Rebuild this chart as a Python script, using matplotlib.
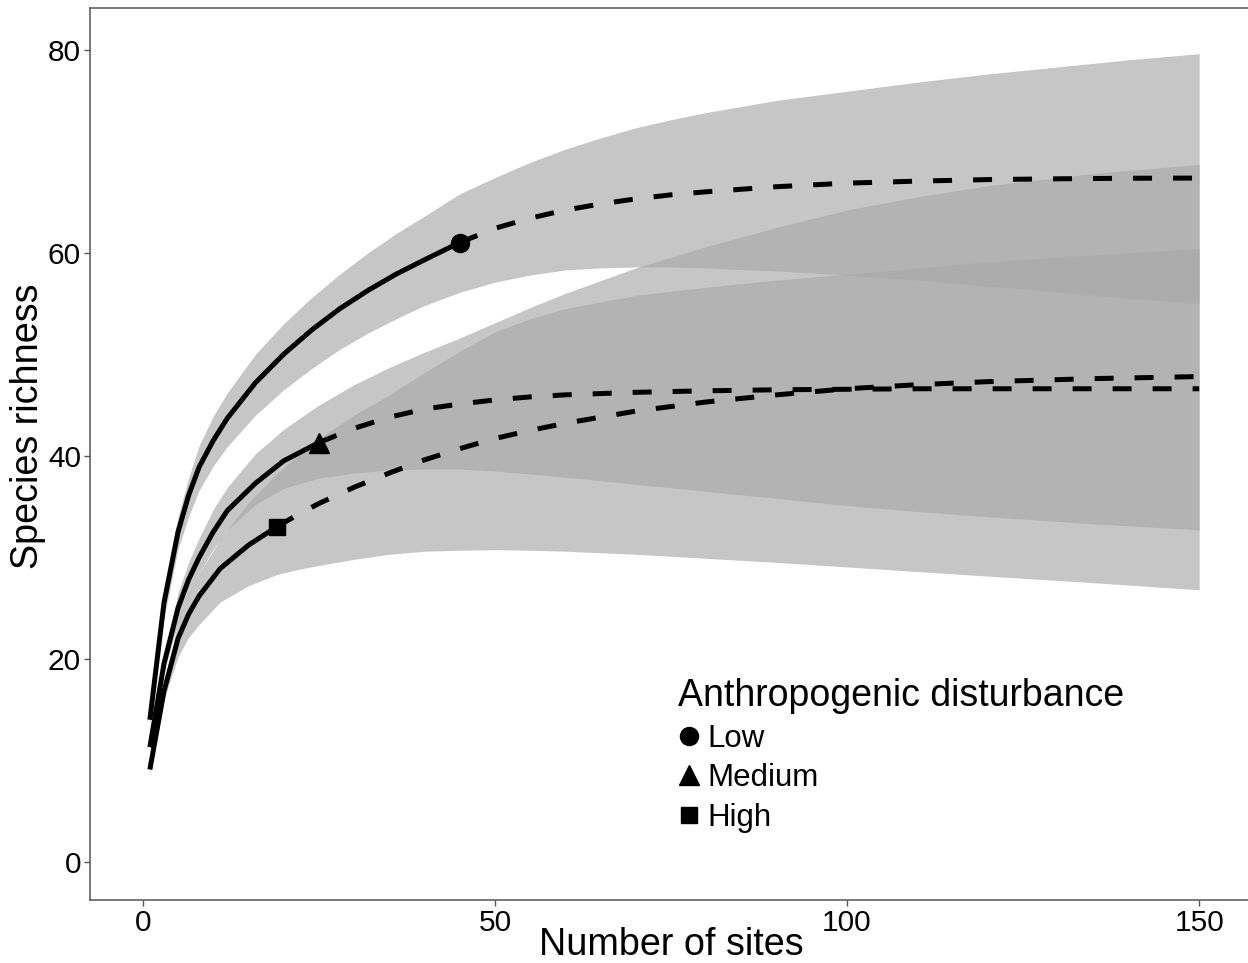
import matplotlib
matplotlib.use("Agg")
import matplotlib.pyplot as plt
from matplotlib.lines import Line2D

plt.rcParams['font.family'] = ['Liberation Sans', 'DejaVu Sans']

# observed number of sites per disturbance level
n_obs = {"Low": 45, "Medium": 25, "High": 19}

# Low disturbance
low_x = [1, 3, 5, 6.5, 8, 10, 12, 16, 20, 24, 28, 32, 36, 40, 45, 50, 55, 60, 65, 70, 75, 80, 90, 100,
         110, 120, 130, 140, 150]
low_y = [14.0, 25.5, 32.5, 36.1, 38.9, 41.5, 43.7, 47.2, 50.0, 52.4, 54.5, 56.3, 57.9, 59.3, 61.0, 62.4,
         63.4, 64.2, 64.8, 65.3, 65.7, 66.0, 66.5, 66.85, 67.05, 67.2, 67.28, 67.33, 67.35]
low_lo = [13.6, 24.0, 30.8, 34.0, 36.6, 39.0, 40.9, 44.0, 46.5, 48.6, 50.5, 52.1, 53.5, 54.8, 56.1, 57.1,
          57.8, 58.3, 58.5, 58.6, 58.6, 58.5, 58.2, 57.8, 57.3, 56.7, 56.1, 55.5, 55.0]
low_hi = [14.4, 26.9, 34.0, 37.8, 41.0, 43.9, 46.2, 50.0, 53.0, 55.6, 57.9, 60.0, 61.9, 63.6, 65.8, 67.4,
          68.9, 70.2, 71.3, 72.3, 73.1, 73.8, 75.0, 75.9, 76.8, 77.6, 78.3, 79.0, 79.6]

# Medium disturbance
med_x = [1, 3, 5, 6.5, 8, 10, 12, 16, 20, 25, 30, 35, 40, 45, 50, 55, 60, 70, 80, 90, 100, 110, 120,
         135, 150]
med_y = [11.3, 19.5, 25.0, 27.8, 30.0, 32.5, 34.6, 37.3, 39.5, 41.3, 42.7, 43.8, 44.6, 45.1, 45.5, 45.8,
         46.0, 46.25, 46.4, 46.5, 46.55, 46.6, 46.6, 46.6, 46.6]
med_lo = [11.0, 18.8, 23.5, 26.2, 28.4, 30.8, 32.7, 35.2, 36.8, 37.8, 38.3, 38.6, 38.7, 38.7, 38.5, 38.2,
          37.9, 37.2, 36.5, 35.8, 35.1, 34.5, 34.0, 33.3, 32.7]
med_hi = [11.6, 20.3, 26.5, 29.5, 31.9, 34.7, 36.9, 40.2, 42.6, 45.0, 47.0, 48.7, 50.2, 51.6, 53.1, 54.6,
          56.0, 58.5, 60.6, 62.5, 64.2, 65.5, 66.6, 67.8, 68.7]

# High disturbance
high_x = [1, 3, 5, 6.5, 8, 11, 15, 19, 22, 25, 30, 35, 40, 45, 50, 55, 60, 70, 80, 90, 100, 110, 120,
          135, 150]
high_y = [9.1, 16.8, 22.0, 24.4, 26.2, 28.9, 31.2, 33.0, 34.2, 35.3, 36.9, 38.3, 39.6, 40.7, 41.7, 42.5,
          43.2, 44.4, 45.3, 46.0, 46.6, 47.0, 47.3, 47.6, 47.8]
high_lo = [8.8, 16.0, 20.2, 22.1, 23.4, 25.6, 27.2, 28.3, 28.8, 29.2, 29.8, 30.3, 30.6, 30.7, 30.75, 30.7,
           30.6, 30.3, 29.9, 29.5, 29.05, 28.6, 28.15, 27.5, 26.8]
high_hi = [9.4, 17.5, 23.6, 26.3, 28.4, 31.8, 35.4, 38.2, 40.1, 41.7, 44.0, 46.0, 48.2, 50.3, 52.2, 53.5,
           54.5, 55.8, 56.6, 57.3, 57.9, 58.5, 59.1, 59.8, 60.4]

series = [
    ("Low", "o", 13, low_x, low_y, low_lo, low_hi),
    ("Medium", "^", 14, med_x, med_y, med_lo, med_hi),
    ("High", "s", 12, high_x, high_y, high_lo, high_hi),
]

fig = plt.figure(figsize=(12.48, 9.63), dpi=100)
ax = fig.add_axes([90 / 1248, 63 / 963, 1162 / 1248, 892 / 963])

for name, mk, ms, xs, ys, lo, hi in series:
    ax.fill_between(xs, lo, hi, color="#aaaaaa", alpha=0.67, linewidth=0)

for name, mk, ms, xs, ys, lo, hi in series:
    n = n_obs[name]
    xa = [x for x in xs if x <= n]
    ya = [y for x, y in zip(xs, ys) if x <= n]
    xb = [x for x in xs if x >= n]
    yb = [y for x, y in zip(xs, ys) if x >= n]
    ax.plot(xa, ya, color="black", lw=3.6, solid_capstyle="butt", solid_joinstyle="round")
    ax.plot(xb, yb, color="black", lw=3.6, linestyle=(0, (3.8, 4.2)))
    ax.plot([n], [ya[-1]], marker=mk, color="black", markersize=ms, linestyle="None")

ax.set_xlim(-7.5, 157.5)
ax.set_ylim(-3.75, 84.1)
ax.set_xticks([0, 50, 100, 150])
ax.set_yticks([0, 20, 40, 60, 80])
ax.tick_params(axis="both", length=4.5, width=1, color="#555555", labelsize=21.5, labelcolor="black", pad=2)
for s in ax.spines.values():
    s.set_color("#555555")
    s.set_linewidth(1.1)

fig.text(671 / 1248, 1 - 955 / 963, "Number of sites", ha="center", va="baseline", fontsize=27.2)
fig.text(28 / 1248, 1 - 426 / 963, "Species richness", ha="center", va="center", rotation=90, fontsize=27.2)

handles = [Line2D([], [], marker=mk, color="black", linestyle="None", markersize=ms)
           for name, mk, ms, *_ in series]
leg = ax.legend(handles, [s[0] for s in series], title="Anthropogenic disturbance",
                loc="upper left", bbox_to_anchor=(665 / 1248, 1 - 666 / 963), bbox_transform=fig.transFigure,
                frameon=False, fontsize=22.5, title_fontsize=27, alignment="left",
                handlelength=0.75, handletextpad=0.2, labelspacing=0.3, borderaxespad=0)

fig.savefig("out.png", dpi=100)
